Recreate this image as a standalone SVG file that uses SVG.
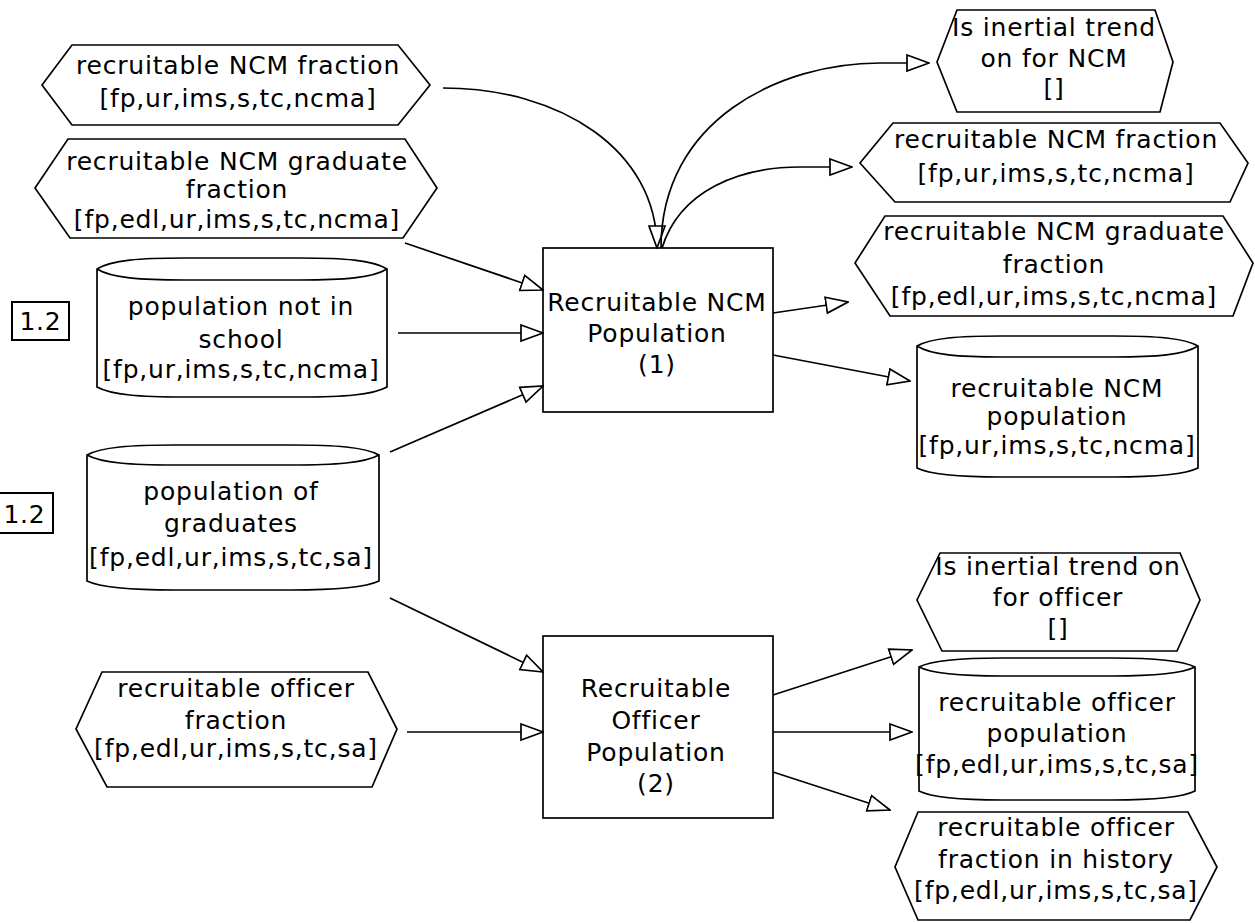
<svg xmlns="http://www.w3.org/2000/svg" width="1255" height="923" viewBox="0 0 1255 923">
  <style>
    .shape { fill: #fff; stroke: #000; stroke-width: 1.7; }
    .tag { fill: #fff; stroke: #000; stroke-width: 2; }
    .t { font-family: "DejaVu Sans", "Liberation Sans", sans-serif; font-size: 25px; letter-spacing: 0.8px; text-anchor: middle; fill: #000; }
    .conn { fill: none; stroke: #000; stroke-width: 1.7; marker-end: url(#arrow); }
  </style>
  <defs>
    <!-- open triangular arrowhead -->
    <marker id="arrow" markerUnits="userSpaceOnUse" markerWidth="24" markerHeight="20" viewBox="0 0 24 20" refX="23" refY="10" orient="auto">
      <path d="M1,2 L23,10 L1,18 Z" fill="#fff" stroke="#000" stroke-width="1.7"/>
    </marker>
  </defs>

  <rect width="1255" height="923" fill="#fff"/>

  <!-- inputs, left column -->
  <g id="in-ncm-fraction">
    <polygon class="shape" points="72,45 398,45 430,85 398,125 72,125 42,85"/>
    <text class="t" x="238" y="74">recruitable NCM fraction</text>
    <text class="t" x="238" y="107">[fp,ur,ims,s,tc,ncma]</text>
  </g>
  <g id="in-ncm-grad-fraction">
    <polygon class="shape" points="68,139 405,139 437,188 403,238 70,238 35,188"/>
    <text class="t" x="237" y="170">recruitable NCM graduate</text>
    <text class="t" x="237" y="198">fraction</text>
    <text class="t" x="237" y="228">[fp,edl,ur,ims,s,tc,ncma]</text>
  </g>
  <g id="tag-1">
    <rect class="tag" x="12" y="302" width="57" height="38"/>
    <text class="t" x="40.5" y="330">1.2</text>
  </g>
  <g id="in-pop-not-in-school">
    <path class="shape" d="M97,269 C111.5,260 140.5,258 184,258 L300,258 C343.5,258 372.5,260 387,269 L387,387 C372.5,395 343.5,397 300,397 L184,397 C140.5,397 111.5,395 97,387 Z M97,269 C111.5,278 140.5,280 184,280 L300,280 C343.5,280 372.5,278 387,269"/>
    <text class="t" x="241" y="315">population not in</text>
    <text class="t" x="241" y="348">school</text>
    <text class="t" x="241" y="378">[fp,ur,ims,s,tc,ncma]</text>
  </g>
  <g id="tag-2">
    <rect class="tag" x="-4" y="493" width="57" height="40"/>
    <text class="t" x="24.5" y="523">1.2</text>
  </g>
  <g id="in-pop-graduates">
    <path class="shape" d="M87,455 C101.6,447 130.8,445 174.6,445 L291.4,445 C335.2,445 364.4,447 379,455 L379,581 C364.4,588 335.2,590 291.4,590 L174.6,590 C130.8,590 101.6,588 87,581 Z M87,455 C101.6,463 130.8,465 174.6,465 L291.4,465 C335.2,465 364.4,463 379,455"/>
    <text class="t" x="231" y="500">population of</text>
    <text class="t" x="231" y="532">graduates</text>
    <text class="t" x="231" y="566">[fp,edl,ur,ims,s,tc,sa]</text>
  </g>
  <g id="in-officer-fraction">
    <polygon class="shape" points="102,672 368,672 397,729 372,787 107,787 76,729"/>
    <text class="t" x="236" y="697">recruitable officer</text>
    <text class="t" x="236" y="729">fraction</text>
    <text class="t" x="236" y="757">[fp,edl,ur,ims,s,tc,sa]</text>
  </g>

  <!-- processes -->
  <g id="proc-ncm">
    <rect class="shape" x="543" y="248" width="230" height="164"/>
    <text class="t" x="657" y="311">Recruitable NCM</text>
    <text class="t" x="657" y="342">Population</text>
    <text class="t" x="657" y="373">(1)</text>
  </g>
  <g id="proc-officer">
    <rect class="shape" x="543" y="636" width="230" height="182"/>
    <text class="t" x="656" y="697">Recruitable</text>
    <text class="t" x="656" y="729">Officer</text>
    <text class="t" x="656" y="761">Population</text>
    <text class="t" x="656" y="792">(2)</text>
  </g>

  <!-- outputs, right column -->
  <g id="out-trend-ncm">
    <polygon class="shape" points="957,10 1155,10 1173,62 1160,112 957,112 937,62"/>
    <text class="t" x="1054" y="36">Is inertial trend</text>
    <text class="t" x="1054" y="67">on for NCM</text>
    <text class="t" x="1054" y="97">[]</text>
  </g>
  <g id="out-ncm-fraction">
    <polygon class="shape" points="893,123 1220,123 1248,163 1230,202 895,202 860,163"/>
    <text class="t" x="1056" y="148">recruitable NCM fraction</text>
    <text class="t" x="1056" y="182">[fp,ur,ims,s,tc,ncma]</text>
  </g>
  <g id="out-ncm-grad-fraction">
    <polygon class="shape" points="885,216 1223,216 1253,263 1233,316 890,316 855,263"/>
    <text class="t" x="1054" y="240">recruitable NCM graduate</text>
    <text class="t" x="1054" y="273">fraction</text>
    <text class="t" x="1054" y="305">[fp,edl,ur,ims,s,tc,ncma]</text>
  </g>
  <g id="out-ncm-pop">
    <path class="shape" d="M917,346 C931,338 959,336 1001,336 L1114,336 C1156,336 1184,338 1198,346 L1198,468 C1184,475 1156,477 1114,477 L1001,477 C959,477 931,475 917,468 Z M917,346 C931,355 959,357 1001,357 L1114,357 C1156,357 1184,355 1198,346"/>
    <text class="t" x="1057" y="397">recruitable NCM</text>
    <text class="t" x="1057" y="425">population</text>
    <text class="t" x="1057" y="454">[fp,ur,ims,s,tc,ncma]</text>
  </g>
  <g id="out-trend-officer">
    <polygon class="shape" points="940,553 1180,553 1200,600 1177,651 942,651 917,600"/>
    <text class="t" x="1058" y="575">Is inertial trend on</text>
    <text class="t" x="1058" y="606">for officer</text>
    <text class="t" x="1058" y="637">[]</text>
  </g>
  <g id="out-officer-pop">
    <path class="shape" d="M919,667 C932.8,660 960.4,658 1001.8,658 L1112.2,658 C1153.6,658 1181.2,660 1195,667 L1195,791 C1181.2,798 1153.6,800 1112.2,800 L1001.8,800 C960.4,800 932.8,798 919,791 Z M919,667 C932.8,674 960.4,676 1001.8,676 L1112.2,676 C1153.6,676 1181.2,674 1195,667"/>
    <text class="t" x="1057" y="711">recruitable officer</text>
    <text class="t" x="1057" y="742">population</text>
    <text class="t" x="1057" y="773">[fp,edl,ur,ims,s,tc,sa]</text>
  </g>
  <g id="out-officer-history">
    <polygon class="shape" points="918,812 1188,812 1217,867 1190,920 918,920 895,867"/>
    <text class="t" x="1056" y="836">recruitable officer</text>
    <text class="t" x="1056" y="868">fraction in history</text>
    <text class="t" x="1056" y="899">[fp,edl,ur,ims,s,tc,sa]</text>
  </g>

  <!-- connectors -->
  <g id="connectors">
    <path class="conn" d="M443,88 C560,88 657,150 657,248"/>
    <path class="conn" d="M661,248 C661,120 780,63 880,63 L929,63"/>
    <path class="conn" d="M662,248 C680,190 740,167 800,167 L852,167"/>
    <path class="conn" d="M405,243 L543,290"/>
    <path class="conn" d="M398,333 L543,333"/>
    <path class="conn" d="M390,452 L543,386"/>
    <path class="conn" d="M773,313 L848,302"/>
    <path class="conn" d="M773,355 L910,381"/>
    <path class="conn" d="M390,598 L543,672"/>
    <path class="conn" d="M407,732 L543,732"/>
    <path class="conn" d="M773,695 L912,650"/>
    <path class="conn" d="M773,732 L912,732"/>
    <path class="conn" d="M773,772 L890,810"/>
  </g>
</svg>
